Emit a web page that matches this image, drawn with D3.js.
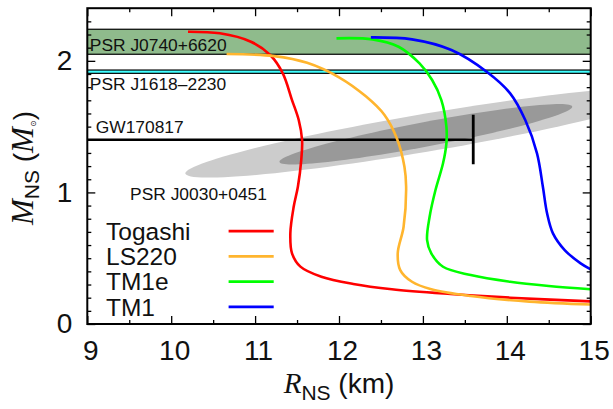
<!DOCTYPE html>
<html><head><meta charset="utf-8">
<script src="https://cdn.jsdelivr.net/npm/d3@7"></script>
<style>body{margin:0;background:#fff}svg{display:block}</style>
</head><body><svg id="c" width="613" height="409"></svg>
<script>
// ---- data ----
const xTicks = [9, 10, 11, 12, 13, 14, 15];
const xMinorTicks = [9.5, 10.5, 11.5, 12.5, 13.5, 14.5];
const yTicks = [0, 1, 2];
const yMinorTicks = [0.1,0.2,0.3,0.4,0.5,0.6,0.7,0.8,0.9,1.1,1.2,1.3,1.4,1.5,1.6,1.7,1.8,1.9,2.1,2.2,2.3];

const togashi = [[10.20,2.221],[10.58,2.209],[10.95,2.145],[11.18,2.044],[11.33,1.905],[11.44,1.702],[11.52,1.55],[11.56,1.398],[11.55,1.246],[11.51,1.043],[11.46,0.891],[11.42,0.689],[11.44,0.537],[11.54,0.436],[11.79,0.359],[12.17,0.304],[12.63,0.264],[13.33,0.228],[14.04,0.200],[15.0,0.172]];
const ls220 = [[10.66,2.052],[11.23,2.036],[11.62,1.985],[12.00,1.875],[12.32,1.73],[12.54,1.59],[12.69,1.41],[12.78,1.195],[12.80,1.043],[12.77,0.739],[12.70,0.537],[12.73,0.41],[12.87,0.321],[13.10,0.264],[13.57,0.213],[14.27,0.170],[15.0,0.148]];
const tm1e = [[11.97,2.171],[12.40,2.163],[12.71,2.107],[12.96,1.98],[13.11,1.854],[13.22,1.702],[13.28,1.5],[13.28,1.373],[13.24,1.221],[13.15,1.018],[13.08,0.815],[13.05,0.638],[13.10,0.537],[13.24,0.435],[13.57,0.372],[14.04,0.321],[14.50,0.289],[15.0,0.264]];
const tm1 = [[12.38,2.178],[12.87,2.163],[13.34,2.082],[13.76,1.917],[14.04,1.753],[14.22,1.55],[14.36,1.297],[14.43,1.043],[14.48,0.841],[14.55,0.689],[14.69,0.562],[14.88,0.461],[15.0,0.416]];

const seriesNames = ["Togashi", "LS220", "TM1e", "TM1"];
const seriesData = [togashi, ls220, tm1e, tm1];
const seriesColors = ["#ff0000", "#ffb52e", "#00ff00", "#0000ff"];

const j0740Band = [2.05, 2.24];
const j1618Band = [1.905, 1.93];
const gwPoint = [13.6, 1.4];
const gwErr = [1.215, 1.59];
const lightEllipse = {c: [13.05, 1.455], a: [2.88, 0.31], b: [0, 0.146]};
const darkEllipse = {c: [13.035, 1.442], a: [1.745, 0.209], b: [0, 0.095]};

const annot = [
  {text: "PSR J0740+6620", r: 9.03, m: 2.077},
  {text: "PSR J1618\u20132230", r: 9.03, m: 1.782},
  {text: "GW170817", r: 9.10, m: 1.451},
  {text: "PSR J0030+0451", r: 9.51, m: 0.942}
];

// ---- layout ----
const L = 87.3, R = 590.7, T = 8.2, B = 324;
const x = d3.scaleLinear().domain([9, 15]).range([L, R]);
const y = d3.scaleLinear().domain([0, 2.4]).range([B, T]);
const svg = d3.select("#c");
const sans = "'Liberation Sans', Arial, Helvetica, sans-serif";
const serif = "'Liberation Serif', 'Times New Roman', serif";

svg.append("defs").append("clipPath").attr("id", "clip")
  .append("rect").attr("x", L).attr("y", T).attr("width", R - L).attr("height", B - T);
const plot = svg.append("g").attr("clip-path", "url(#clip)");

// bands
plot.append("rect").attr("x", x(9)).attr("width", x(15) - x(9))
  .attr("y", y(j0740Band[1])).attr("height", y(j0740Band[0]) - y(j0740Band[1]))
  .attr("fill", "#8fbb8c").attr("stroke", "#000").attr("stroke-width", 1.2);
plot.append("rect").attr("x", x(9)).attr("width", x(15) - x(9))
  .attr("y", y(j1618Band[1])).attr("height", y(j1618Band[0]) - y(j1618Band[1]))
  .attr("fill", "#40ffff").attr("stroke", "#000").attr("stroke-width", 1.2);

// ellipses
function ellipsePts(e) {
  return d3.range(0, 361, 3).map(d => {
    const t = d * Math.PI / 180;
    return [e.c[0] + e.a[0] * Math.cos(t) + e.b[0] * Math.sin(t),
            e.c[1] + e.a[1] * Math.cos(t) + e.b[1] * Math.sin(t)];
  });
}
const eLine = d3.line().x(d => x(d[0])).y(d => y(d[1])).curve(d3.curveLinearClosed);
plot.append("path").attr("d", eLine(ellipsePts(lightEllipse))).attr("fill", "#cccccc");
plot.append("path").attr("d", eLine(ellipsePts(darkEllipse))).attr("fill", "#999999");

// GW170817 marker
plot.append("line").attr("x1", x(9)).attr("x2", x(gwPoint[0]))
  .attr("y1", y(gwPoint[1])).attr("y2", y(gwPoint[1]))
  .attr("stroke", "#000").attr("stroke-width", 2.6);
plot.append("line").attr("x1", x(gwPoint[0])).attr("x2", x(gwPoint[0]))
  .attr("y1", y(gwErr[0])).attr("y2", y(gwErr[1]))
  .attr("stroke", "#000").attr("stroke-width", 2.8);

// annotations
annot.forEach(a => {
  svg.append("text").attr("x", x(a.r)).attr("y", y(a.m)).text(a.text)
    .attr("font-family", sans).attr("font-size", 17.4).attr("fill", "#111");
});

// curves
const cLine = d3.line().x(d => x(d[0])).y(d => y(d[1])).curve(d3.curveCatmullRom.alpha(0.5));
seriesData.forEach((s, i) => {
  plot.append("path").attr("d", cLine(s)).attr("fill", "none")
    .attr("stroke", seriesColors[i]).attr("stroke-width", 2.6);
});

// legend
seriesNames.forEach((n, i) => {
  const by = 240 + i * 25.2;
  svg.append("text").attr("x", 106).attr("y", by).text(n)
    .attr("font-family", sans).attr("font-size", 24.5).attr("fill", "#111");
  svg.append("line").attr("x1", 228.6).attr("x2", 273.7)
    .attr("y1", by - 8.8).attr("y2", by - 8.8)
    .attr("stroke", seriesColors[i]).attr("stroke-width", 2.8);
});

// axes
const axG = svg.append("g");
function styleAxis(g) {
  g.select(".domain").remove();
  g.selectAll(".tick line").attr("stroke", "#000").attr("stroke-width", 1.3);
  g.selectAll("text").attr("font-family", sans).attr("font-size", 28).attr("fill", "#111");
}
axG.append("g").attr("transform", `translate(0,${B})`)
  .call(d3.axisBottom(x).tickValues(xTicks).tickFormat(d3.format("d")).tickSizeInner(-8).tickSizeOuter(0).tickPadding(16))
  .call(styleAxis).selectAll("text").attr("dx", 3);
axG.append("g").attr("transform", `translate(0,${B})`)
  .call(d3.axisBottom(x).tickValues(xMinorTicks).tickFormat("").tickSizeInner(-4).tickSizeOuter(0)).call(styleAxis);
axG.append("g").attr("transform", `translate(0,${T})`)
  .call(d3.axisTop(x).tickValues(xTicks).tickFormat("").tickSizeInner(-8).tickSizeOuter(0)).call(styleAxis);
axG.append("g").attr("transform", `translate(0,${T})`)
  .call(d3.axisTop(x).tickValues(xMinorTicks).tickFormat("").tickSizeInner(-4).tickSizeOuter(0)).call(styleAxis);
axG.append("g").attr("transform", `translate(${L},0)`)
  .call(d3.axisLeft(y).tickValues(yTicks).tickFormat(d3.format("d")).tickSizeInner(-8).tickSizeOuter(0).tickPadding(15))
  .call(styleAxis);
axG.append("g").attr("transform", `translate(${L},0)`)
  .call(d3.axisLeft(y).tickValues(yMinorTicks).tickFormat("").tickSizeInner(-4).tickSizeOuter(0)).call(styleAxis);
axG.append("g").attr("transform", `translate(${R},0)`)
  .call(d3.axisRight(y).tickValues(yTicks).tickFormat("").tickSizeInner(-8).tickSizeOuter(0)).call(styleAxis);
axG.append("g").attr("transform", `translate(${R},0)`)
  .call(d3.axisRight(y).tickValues(yMinorTicks).tickFormat("").tickSizeInner(-4).tickSizeOuter(0)).call(styleAxis);

svg.append("rect").attr("x", L).attr("y", T).attr("width", R - L).attr("height", B - T)
  .attr("fill", "none").attr("stroke", "#000").attr("stroke-width", 2);

// axis titles
const xt = svg.append("text").attr("x", (L + R) / 2).attr("y", 393)
  .attr("text-anchor", "middle").attr("fill", "#111");
xt.append("tspan").attr("font-family", serif).attr("font-style", "italic").attr("font-size", 29).text("R");
xt.append("tspan").attr("font-family", sans).attr("font-size", 21).attr("dy", 7).text("NS");
xt.append("tspan").attr("font-family", sans).attr("font-size", 28).attr("dy", -7).text(" (km)");

const yt = svg.append("text").attr("transform", "translate(33,168) rotate(-90)")
  .attr("text-anchor", "middle").attr("fill", "#111");
yt.append("tspan").attr("font-family", serif).attr("font-style", "italic").attr("font-size", 31).text("M");
yt.append("tspan").attr("font-family", sans).attr("font-size", 21).attr("dy", 6).text("NS");
yt.append("tspan").attr("font-family", sans).attr("font-size", 28).attr("dy", -6).text(" (");
yt.append("tspan").attr("font-family", serif).attr("font-style", "italic").attr("font-size", 31).text("M");
yt.append("tspan").attr("font-family", "'DejaVu Sans', sans-serif").attr("font-size", 8).attr("dy", 3).text("\u2299");
yt.append("tspan").attr("font-family", sans).attr("font-size", 28).attr("dy", -3).text(")");
</script>
</body></html>
